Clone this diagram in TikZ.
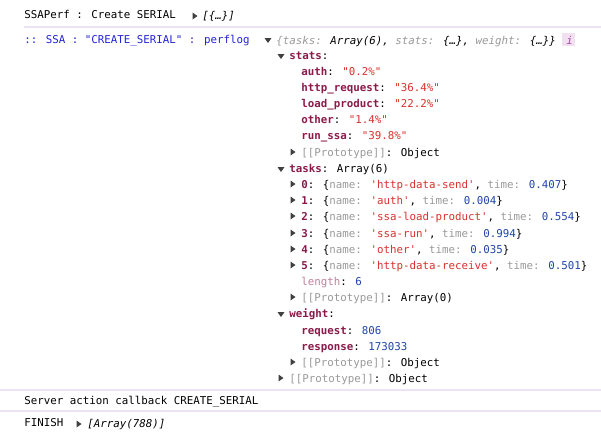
\documentclass[tikz,border=0pt]{standalone}
\usepackage{fontspec}
\newfontfamily\con{DejaVu Sans Mono}
\usetikzlibrary{positioning}
\definecolor{keyc}{HTML}{8B1A4A}
\definecolor{strc}{HTML}{D8322C}
\definecolor{numc}{HTML}{1F45A8}
\definecolor{grayc}{HTML}{9A9A9A}
\definecolor{hdrc}{HTML}{2323D8}
\definecolor{sepc}{HTML}{ECE4F4}
\newcommand{\ky}[1]{\textcolor{keyc}{\bfseries #1}}
\newcommand{\sv}[1]{\textcolor{strc}{#1}}
\newcommand{\nv}[1]{\textcolor{numc}{#1}}
\newcommand{\gy}[1]{\textcolor{grayc}{#1}}
\tikzset{
    txt/.style={anchor=base west, inner sep=0pt, yshift=-3.2pt, font=\con\fontsize{8.1}{10}\selectfont},
    sep/.style={draw=sepc, line width=0.8pt},
}
% small disclosure triangles
\newcommand{\tright}[2]{\fill[black!75] (#1-2.5,#2-3.5) -- (#1+2.5,#2) -- (#1-2.5,#2+3.5) -- cycle;}
\newcommand{\tdown}[2]{\fill[black!75] (#1-3.5,#2-2) -- (#1+3.5,#2-2) -- (#1,#2+3) -- cycle;}

\begin{document}
\begin{tikzpicture}[x=0.75pt, y=-0.75pt]
    \useasboundingbox (0,0) rectangle (601,437);
    \fill[white] (0,0) rectangle (601,437);

    % header rows
    \node (title) [txt] at (24,14) {SSAPerf : Create SERIAL};
    \tright{195}{16}
    \node (titlev) [txt] at (202,15) {\itshape [\{…\}]};
    \draw[sep] (24,27) -- (601,27);
    \node (perf) [txt, text=hdrc] at (24,39) {:: SSA : "CREATE\_SERIAL" : perflog};
    \tdown{268}{40}
    \node (obj) [txt] at (276,40) {\itshape \gy{\{tasks:} Array(6), \gy{stats:} \{…\}, \gy{weight:} \{…\}\}};
    \fill[violet!12] (562,33) rectangle (575,46);
    \node (info) [txt, text=violet!70] at (566,40) {\itshape i};

    % stats
    \tdown{281}{56}
    \node (stats) [txt] at (289,55) {\ky{stats}:};
    \node (auth) [txt] at (301,71) {\ky{auth}: \sv{"0.2\%"}};
    \node (http) [txt] at (301,87) {\ky{http\_request}: \sv{"36.4\%"}};
    \node (load) [txt] at (301,103) {\ky{load\_product}: \sv{"22.2\%"}};
    \node (other) [txt] at (301,119) {\ky{other}: \sv{"1.4\%"}};
    \node (runssa) [txt] at (301,135) {\ky{run\_ssa}: \sv{"39.8\%"}};
    \tright{293}{152}
    \node (sproto) [txt] at (301,152) {\gy{[[Prototype]]}: Object};

    % tasks
    \tdown{281}{169}
    \node (tasks) [txt] at (289,168) {\ky{tasks}: Array(6)};
    \foreach \i/\n/\t [count=\k from 0] in {184/http-data-send/0.407, 200/auth/0.004,
        216/ssa-load-product/0.554, 233/ssa-run/0.994, 249/other/0.035, 265/http-data-receive/0.501}{
        \tright{293}{\i}
        \node (task\k) [txt] at (301,\i) {\ky{\k}: \{\gy{name:} \sv{'\n'}, \gy{time:} \nv{\t}\}};
    }
    \node (len) [txt] at (301,281) {\textcolor{keyc!55}{length}: \nv{6}};
    \tright{293}{297}
    \node (tproto) [txt] at (301,297) {\gy{[[Prototype]]}: Array(0)};

    % weight
    \tdown{281}{314}
    \node (weight) [txt] at (289,313) {\ky{weight}:};
    \node (req) [txt] at (301,330) {\ky{request}: \nv{806}};
    \node (resp) [txt] at (301,346) {\ky{response}: \nv{173033}};
    \tright{293}{362}
    \node (wproto) [txt] at (301,362) {\gy{[[Prototype]]}: Object};
    \tright{281}{378}
    \node (oproto) [txt] at (289,378) {\gy{[[Prototype]]}: Object};

    % footer rows
    \draw[sep] (0,390) -- (601,390);
    \node (server) [txt] at (24,400) {Server action callback CREATE\_SERIAL};
    \draw[sep] (0,411) -- (601,411);
    \node (finish) [txt] at (24,422) {FINISH};
    \tright{79}{424}
    \node (finishv) [txt] at (87,423) {\itshape [Array(788)]};
\end{tikzpicture}
\end{document}
